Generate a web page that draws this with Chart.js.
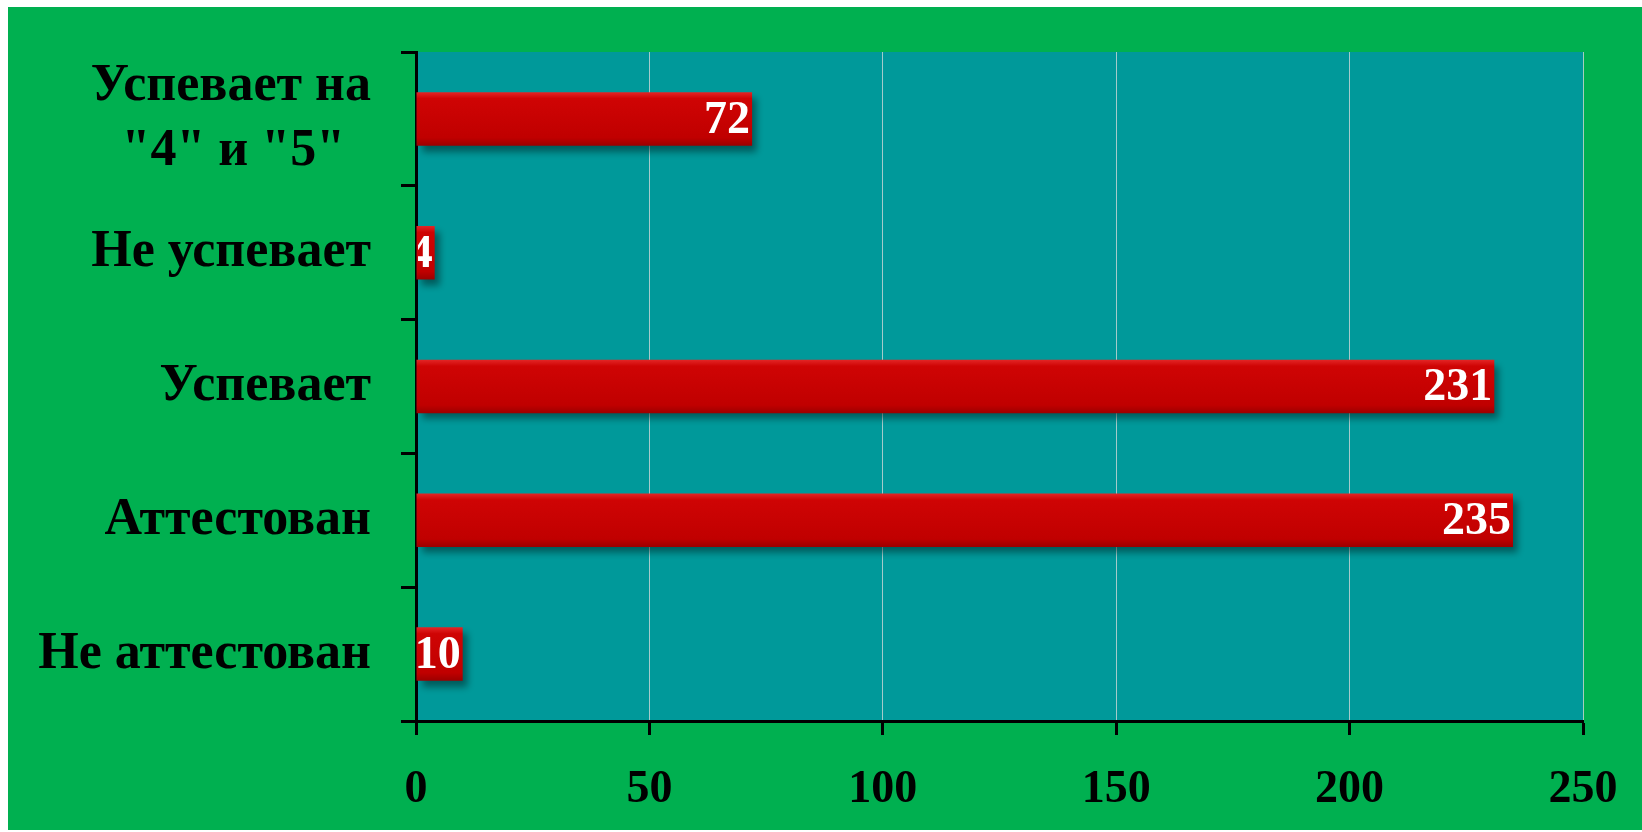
<!DOCTYPE html>
<html>
<head>
<meta charset="utf-8">
<script src="https://cdn.jsdelivr.net/npm/chart.js@4.4.1/dist/chart.umd.min.js"></script>
<style>
  html, body { margin: 0; padding: 0; background: #fff; }
  #box { position: absolute; left: 8px; top: 7px; width: 1634px; height: 823px; background: #00b050; }
</style>
</head>
<body>
<div id="box"><canvas id="myChart"></canvas></div>
<script>
// categories top to bottom (en space keeps the second line centred under the first)
const categories = [['Успевает на', '"4" и "5"\u2002'], 'Не успевает', 'Успевает', 'Аттестован', 'Не аттестован'];
const counts = [72, 4, 231, 235, 10];
const xTicks = [0, 50, 100, 150, 200, 250];

const serif = '"Liberation Serif", "Times New Roman", serif';
const barPct = 0.4;

// red bar with a light top edge
function barGradient(context) {
    const chart = context.chart;
    const yScale = chart.scales.y;
    const area = chart.chartArea;
    if (!yScale || !area || context.dataIndex === undefined) return '#c00000';
    const y = yScale.getPixelForValue(context.dataIndex);
    const band = (area.bottom - area.top) / categories.length;
    const h = band * barPct;
    const g = chart.ctx.createLinearGradient(0, y - h / 2, 0, y + h / 2);
    g.addColorStop(0, '#e32626');
    g.addColorStop(0.12, '#cf0404');
    g.addColorStop(0.85, '#c00000');
    g.addColorStop(1, '#9c0000');
    return g;
}

const plotBg = {
    id: 'plotBg',
    beforeDraw(chart) {
        const { ctx, chartArea: a } = chart;
        ctx.save();
        ctx.fillStyle = '#00999a';
        ctx.fillRect(a.left, a.top, a.right - a.left, a.bottom - a.top);
        ctx.restore();
    }
};

const barShadowAndLabels = {
    id: 'barShadowAndLabels',
    beforeDatasetsDraw(chart) {
        const ctx = chart.ctx;
        ctx.save();
        ctx.shadowColor = 'rgba(0, 40, 40, 0.55)';
        ctx.shadowBlur = 7;
        ctx.shadowOffsetX = 5;
        ctx.shadowOffsetY = 6;
    },
    afterDatasetsDraw(chart) {
        const ctx = chart.ctx;
        ctx.restore();
        const a = chart.chartArea;
        ctx.save();
        ctx.beginPath();
        ctx.rect(a.left + 2, a.top, a.right - a.left, a.bottom - a.top);
        ctx.clip();
        ctx.font = 'bold 46px ' + serif;
        ctx.fillStyle = '#ffffff';
        ctx.textAlign = 'right';
        ctx.textBaseline = 'middle';
        chart.getDatasetMeta(0).data.forEach((bar, i) => {
            ctx.fillText(String(counts[i]), bar.x - 2, bar.y + 2);
        });
        ctx.restore();
    }
};

new Chart('myChart', {
    type: 'bar',
    data: {
        labels: categories,
        datasets: [{
            data: counts,
            backgroundColor: barGradient,
            borderWidth: 0,
            barPercentage: barPct,
            categoryPercentage: 1
        }]
    },
    options: {
        indexAxis: 'y',
        responsive: true,
        maintainAspectRatio: false,
        animation: false,
        events: [],
        layout: { padding: { top: 45, right: 59, left: 0, bottom: 0 } },
        plugins: { legend: { display: false }, tooltip: { enabled: false } },
        scales: {
            x: {
                type: 'linear',
                min: 0,
                max: 250,
                afterBuildTicks: (scale) => { scale.ticks = xTicks.map(v => ({ value: v })); },
                afterFit: (scale) => { scale.height = 109; scale.paddingLeft = 0; scale.paddingRight = 0; },
                ticks: {
                    color: '#000',
                    padding: 28,
                    font: { family: serif, size: 46, weight: 'bold' }
                },
                grid: {
                    color: 'rgba(205, 215, 215, 0.8)',
                    lineWidth: 1,
                    drawTicks: true,
                    tickLength: 14,
                    tickColor: '#000',
                    tickWidth: 3
                },
                border: { color: '#000', width: 3 }
            },
            y: {
                type: 'category',
                afterFit: (scale) => { scale.width = 408; scale.paddingTop = 0; scale.paddingBottom = 0; },
                ticks: {
                    color: '#000',
                    padding: 30,
                    font: { family: serif, size: 52, weight: 'bold', lineHeight: 1.25 }
                },
                grid: {
                    offset: true,
                    drawOnChartArea: false,
                    drawTicks: true,
                    tickLength: 15,
                    tickColor: '#000',
                    tickWidth: 3
                },
                border: { color: '#000', width: 3 }
            }
        }
    },
    plugins: [plotBg, barShadowAndLabels]
});
</script>
</body>
</html>
